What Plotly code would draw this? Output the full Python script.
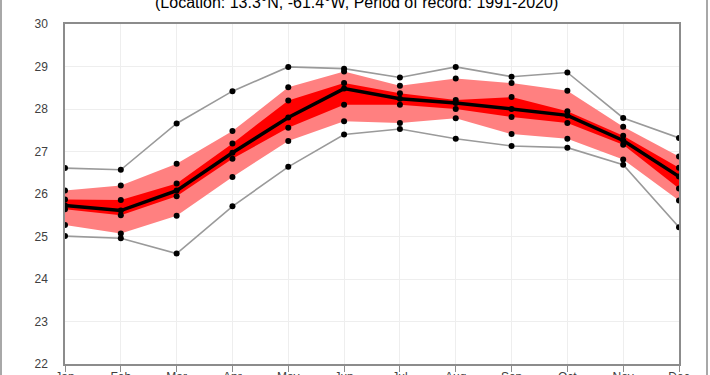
import plotly.graph_objects as go

months = ["Jan", "Feb", "Mar", "Apr", "May", "Jun", "Jul", "Aug", "Sep", "Oct", "Nov", "Dec"]
t_max = [26.61, 26.57, 27.66, 28.42, 28.99, 28.95, 28.74, 28.99, 28.76, 28.86, 27.79, 27.32]
t_p90 = [26.08, 26.20, 26.71, 27.48, 28.51, 28.88, 28.55, 28.72, 28.61, 28.43, 27.58, 26.88]
t_p75 = [25.87, 25.86, 26.25, 27.19, 28.20, 28.61, 28.37, 28.21, 28.28, 27.95, 27.37, 26.62]
t_mean = [25.73, 25.61, 26.08, 26.97, 27.80, 28.48, 28.24, 28.14, 28.00, 27.85, 27.26, 26.41]
t_p25 = [25.64, 25.50, 25.95, 26.83, 27.56, 28.10, 28.10, 28.00, 27.81, 27.67, 27.16, 26.13]
t_p10 = [25.27, 25.07, 25.49, 26.40, 27.25, 27.71, 27.67, 27.78, 27.41, 27.30, 26.81, 25.85]
t_min = [25.01, 24.96, 24.60, 25.71, 26.64, 27.40, 27.53, 27.30, 27.13, 27.09, 26.69, 25.22]
y_ticks = [22, 23, 24, 25, 26, 27, 28, 29, 30]
subtitle = "(Location: 13.3°N, -61.4°W, Period of record: 1991-2020)"

x = list(range(len(months)))
fig = go.Figure()

# light band p10-p90
fig.add_trace(go.Scatter(x=x, y=t_p10, mode="lines", line=dict(width=0, color="#ff8080"),
                         showlegend=False, hoverinfo="skip"))
fig.add_trace(go.Scatter(x=x, y=t_p90, mode="lines", line=dict(width=0, color="#ff8080"),
                         fill="tonexty", fillcolor="#ff8080", showlegend=False, hoverinfo="skip"))
# dark band p25-p75
fig.add_trace(go.Scatter(x=x, y=t_p25, mode="lines", line=dict(width=0, color="#ff0000"),
                         showlegend=False, hoverinfo="skip"))
fig.add_trace(go.Scatter(x=x, y=t_p75, mode="lines", line=dict(width=0, color="#ff0000"),
                         fill="tonexty", fillcolor="#ff0000", showlegend=False, hoverinfo="skip"))

# min / max gray lines
for ser in (t_max, t_min):
    fig.add_trace(go.Scatter(x=x, y=ser, mode="lines+markers",
                             line=dict(width=1.6, color="#9a9a9a"),
                             marker=dict(size=6, color="black"), showlegend=False))
# percentile dots
for ser in (t_p90, t_p75, t_p25, t_p10):
    fig.add_trace(go.Scatter(x=x, y=ser, mode="markers",
                             marker=dict(size=6, color="black"), showlegend=False))
# mean line
fig.add_trace(go.Scatter(x=x, y=t_mean, mode="lines+markers",
                         line=dict(width=3.5, color="black"),
                         marker=dict(size=6, color="black"), showlegend=False))

fig.add_annotation(text=subtitle, xref="paper", yref="paper", x=(356 - 65) / 614,
                   y=1 + (24 - 2) / 340, xanchor="center", yanchor="middle",
                   showarrow=False, font=dict(size=16, color="#000000"))

# outer frame
fig.add_shape(type="rect", xref="paper", yref="paper",
              x0=(1 - 65) / 614, x1=(707 - 65) / 614, y0=-0.2, y1=1.2,
              line=dict(color="#8c8c8c", width=1.5), layer="above")

fig.update_layout(
    width=710, height=375,
    margin=dict(l=65, r=31, t=24, b=11, autoexpand=False),
    paper_bgcolor="white", plot_bgcolor="white",
    font=dict(family="Liberation Sans, Arial, sans-serif", size=12, color="#404040"),
)
fig.update_xaxes(range=[0, 11], tickmode="array", tickvals=x, ticktext=months,
                 showgrid=True, gridcolor="#eeeeee", gridwidth=1, automargin=False,
                 showline=True, linecolor="#8c8c8c", linewidth=1.5, mirror=True,
                 ticks="outside", ticklen=6, tickcolor="#8c8c8c", zeroline=False,
                 ticklabelstandoff=-5)
fig.update_yaxes(range=[22, 30], tickmode="array", tickvals=y_ticks, automargin=False,
                 showgrid=True, gridcolor="#eeeeee", gridwidth=1,
                 showline=True, linecolor="#8c8c8c", linewidth=1.5, mirror=True,
                 ticks="", ticklabelstandoff=13, zeroline=False)

fig.write_html("out.html", config={"displayModeBar": False},
               post_script="document.body.style.margin='0';document.body.style.overflow='hidden';")
